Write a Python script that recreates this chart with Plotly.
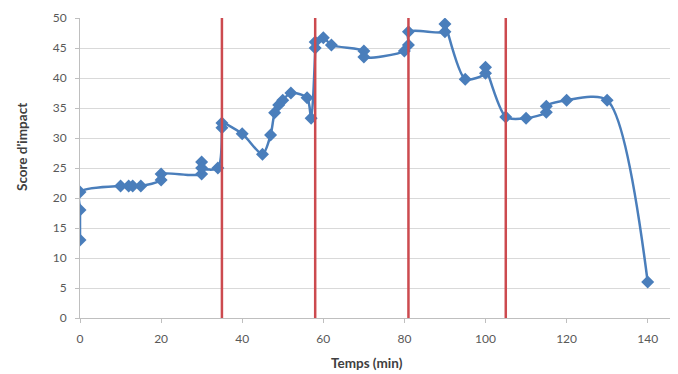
import plotly.graph_objects as go

# Temps (min) et score d'impact
temps = [0, 0, 0, 10, 12, 13, 15, 20, 20, 30, 30, 30, 34, 35, 35, 40, 45, 47, 48, 49,
         50, 52, 56, 57, 58, 58, 60, 62, 70, 70, 80, 81, 81, 90, 90, 95, 100, 100,
         105, 110, 115, 115, 120, 130, 140]
score = [13, 18, 21, 22, 22, 22, 22, 23, 24, 24, 26, 25, 25, 31.7, 32.5, 30.7, 27.3, 30.5, 34.2, 35.5,
         36.3, 37.5, 36.7, 33.3, 45, 46, 46.7, 45.5, 44.5, 43.5, 44.5, 45.5, 47.7, 47.7, 49, 39.8, 40.8, 41.8,
         33.5, 33.3, 34.3, 35.3, 36.3, 36.3, 6]

# changements de phase (lignes rouges)
phases = [35, 58, 81, 105]

x_ticks = [0, 20, 40, 60, 80, 100, 120, 140]
y_ticks = [0, 5, 10, 15, 20, 25, 30, 35, 40, 45, 50]

blue = '#4a7ebb'
red = '#cc4a4f'
grey = '#595959'
title_font = dict(size=13.5, color='#404040', family='Lato, sans-serif', weight='bold')

fig = go.Figure()

for p in phases:
    fig.add_shape(type='line', x0=p, x1=p, y0=0, y1=50, xref='x', yref='y',
                  line=dict(color=red, width=2.5), layer='above')

fig.add_trace(go.Scatter(
    x=temps, y=score, mode='lines+markers',
    line=dict(color=blue, width=2.5, shape='spline', smoothing=0.8),
    marker=dict(symbol='diamond', size=10, color=blue),
    showlegend=False
))

# titres d'axes placés comme dans l'original
fig.add_annotation(text='Temps (min)', xref='paper', yref='paper', x=0.486, y=0,
                   yshift=-45, yanchor='middle', showarrow=False, font=title_font)
fig.add_annotation(text="Score d'impact", xref='paper', yref='paper', x=0, y=0.57,
                   xshift=-58, xanchor='center', textangle=-90, showarrow=False,
                   font=title_font)

# la page ajoute une marge de 8 px autour du graphique
fig.update_layout(
    width=678, height=374,
    margin=dict(l=72, r=16, t=10, b=64),
    paper_bgcolor='white', plot_bgcolor='white',
    font=dict(family='Lato, Liberation Sans, sans-serif', color=grey, size=12),
    xaxis=dict(range=[0, 145.5], tickvals=x_ticks, showgrid=False, zeroline=False,
               automargin=False, ticklabelstandoff=6,
               showline=True, linecolor='#bfbfbf', ticks='outside', ticklen=4,
               tickcolor='#bfbfbf'),
    yaxis=dict(range=[0, 50], tickvals=y_ticks, showgrid=True, gridcolor='#d9d9d9',
               zeroline=False, showline=True, linecolor='#bfbfbf', ticks='outside',
               automargin=False, ticklabelstandoff=6,
               ticklen=4, tickcolor='#bfbfbf'),
)

fig.write_html("out.html")
